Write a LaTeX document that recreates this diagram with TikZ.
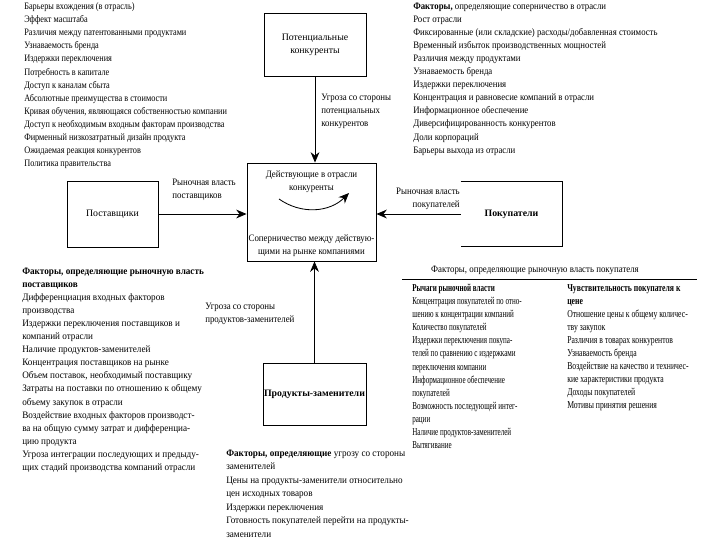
\documentclass[tikz,border=0pt]{standalone}
\usepackage{fontspec}
\setmainfont{Liberation Serif}
\newfontfamily\tlfont[FakeStretch=0.84]{Liberation Serif}
\newfontfamily\trfont[FakeStretch=0.89]{Liberation Serif}
\newfontfamily\blfont[FakeStretch=0.93]{Liberation Serif}
\newfontfamily\bmfont[FakeStretch=0.93]{Liberation Serif}
\newfontfamily\levfont[FakeStretch=0.67]{Liberation Serif}
\newfontfamily\sensfont[FakeStretch=0.73]{Liberation Serif}
\newfontfamily\capfont[FakeStretch=0.9]{Liberation Serif}
\usepackage{tikz}
\usetikzlibrary{positioning,arrows.meta,calc}
\tikzset{
  forcebox/.style={rectangle,draw=black,line width=0.6pt,align=center,inner sep=0pt,font=\fontsize{7}{9.3}\selectfont},
  factors/.style={anchor=north west,align=left,inner sep=0pt,font=\fontsize{7}{9.3}\selectfont},
  caption/.style={align=left,inner sep=0pt,font=\fontsize{7}{9.3}\selectfont\capfont},
  threat/.style={-{Stealth[length=2.6mm,width=2.2mm]},line width=0.6pt}
}

\begin{document}
\begin{tikzpicture}[x=0.025cm,y=-0.025cm]
  \useasboundingbox (0,0) rectangle (720,540);

  \node[forcebox,minimum width=2.55cm,minimum height=1.575cm] (pot) at (315,44.5) {Потенциальные\\конкуренты};
  \node[forcebox,minimum width=3.225cm,minimum height=2.45cm] (rival) at (311.5,212) {};
  \node[forcebox,minimum width=2.275cm,minimum height=1.65cm] (supp) at (112.5,214) {Поставщики};
  \node[forcebox,draw=none,minimum width=2.525cm,minimum height=1.6cm,font=\fontsize{7}{9.3}\selectfont\bfseries] (buy) at (511.5,214) {Покупатели};
  \node[forcebox,minimum width=2.575cm,minimum height=1.55cm,font=\fontsize{7}{9.3}\selectfont\bfseries] (subst) at (314.5,394) {Продукты-заменители};
  \draw[line width=0.6pt] (buy.north west) -- (buy.north east) -- (buy.south east) -- (buy.south west);

  \node[caption,align=center,below=0.2cm of rival.north] (rivtop) {Действующие в отрасли\\конкуренты};
  \node[caption,align=center,above=0.12cm of rival.south] (rivbot) {Соперничество между действую-\\щими на рынке компаниями};
  \coordinate (cl) at (279,199);
  \coordinate (cr) at (349,193);
  \draw[threat] (cl) to[bend right=40] (cr);

  \draw[threat] (pot) -- (pot |- rival.north);
  \draw[threat] (subst) -- (subst |- rival.south);
  \draw[threat] (supp) -- (supp -| rival.west);
  \draw[threat] (buy.west) -- (buy.west -| rival.east);

  \node[caption,anchor=north west] (potlbl) at (321,94) {Угроза со стороны\\потенциальных\\конкурентов};
  \node[caption,anchor=north west] (supplbl) at (172,179) {Рыночная власть\\поставщиков};
  \node[caption,align=right,anchor=north east] (buylbl) at (460,188) {Рыночная власть\\покупателей};
  \node[caption,anchor=north west] (substlbl) at (205,303) {Угроза со стороны\\продуктов-заменителей};

  \node[factors,font=\fontsize{7}{9.3}\selectfont\tlfont] (barriers) at (24,2.5) {Барьеры вхождения (в отрасль)\\
    Эффект масштаба\\
    Различия между патентованными продуктами\\
    Узнаваемость бренда\\
    Издержки переключения\\
    Потребность в капитале\\
    Доступ к каналам сбыта\\
    Абсолютные преимущества в стоимости\\
    Кривая обучения, являющаяся собственностью компании\\
    Доступ к необходимым входным факторам производства\\
    Фирменный низкозатратный дизайн продукта\\
    Ожидаемая реакция конкурентов\\
    Политика правительства};

  \node[factors,font=\fontsize{7}{9.3}\selectfont\trfont] (rivalry) at (413,2.5) {\textbf{Факторы,} определяющие соперничество в отрасли\\
    Рост отрасли\\
    Фиксированные (или складские) расходы/добавленная стоимость\\
    Временный избыток производственных мощностей\\
    Различия между продуктами\\
    Узнаваемость бренда\\
    Издержки переключения\\
    Концентрация и равновесие компаний в отрасли\\
    Информационное обеспечение\\
    Диверсифицированность конкурентов\\
    Доли корпораций\\
    Барьеры выхода из отрасли};

  \node[factors,font=\fontsize{7}{9.3}\selectfont\blfont] (supplf) at (22,267.5) {\textbf{Факторы, определяющие рыночную власть}\\
    \textbf{поставщиков}\\
    Дифференциация входных факторов\\
    производства\\
    Издержки переключения поставщиков и\\
    компаний отрасли\\
    Наличие продуктов-заменителей\\
    Концентрация поставщиков на рынке\\
    Объем поставок, необходимый поставщику\\
    Затраты на поставки по отношению к общему\\
    объему закупок в отрасли\\
    Воздействие входных факторов производст-\\
    ва на общую сумму затрат и дифференциа-\\
    цию продукта\\
    Угроза интеграции последующих и предыду-\\
    щих стадий производства компаний отрасли};

  \node[factors,font=\fontsize{7}{9.6}\selectfont\bmfont] (substf) at (226,449.5) {\textbf{Факторы, определяющие} угрозу со стороны\\
    заменителей\\
    Цены на продукты-заменители относительно\\
    цен исходных товаров\\
    Издержки переключения\\
    Готовность покупателей перейти на продукты-\\
    заменители};

  \node[caption,align=center,anchor=center] (buyhead) at (535,270) {Факторы, определяющие рыночную власть покупателя};
  \coordinate (hl) at (402,279);
  \coordinate (hr) at (697,279);
  \draw[line width=0.6pt] (hl) -- (hr);

  \node[factors,font=\fontsize{7.5}{9.3}\selectfont\levfont] (lever) at (412,284) {\textbf{Рычаги рыночной власти}\\
    Концентрация покупателей по отно-\\
    шению к концентрации компаний\\
    Количество покупателей\\
    Издержки переключения покупа-\\
    телей по сравнению с издержками\\
    переключения компании\\
    Информационное обеспечение\\
    покупателей\\
    Возможность последующей интег-\\
    рации\\
    Наличие продуктов-заменителей\\
    Вытягивание};

  \node[factors,font=\fontsize{7.5}{9.3}\selectfont\sensfont] (sens) at (567,284) {\textbf{Чувствительность покупателя к}\\
    \textbf{цене}\\
    Отношение цены к общему количес-\\
    тву закупок\\
    Различия в товарах конкурентов\\
    Узнаваемость бренда\\
    Воздействие на качество и техничес-\\
    кие характеристики продукта\\
    Доходы покупателей\\
    Мотивы принятия решения};
\end{tikzpicture}
\end{document}
